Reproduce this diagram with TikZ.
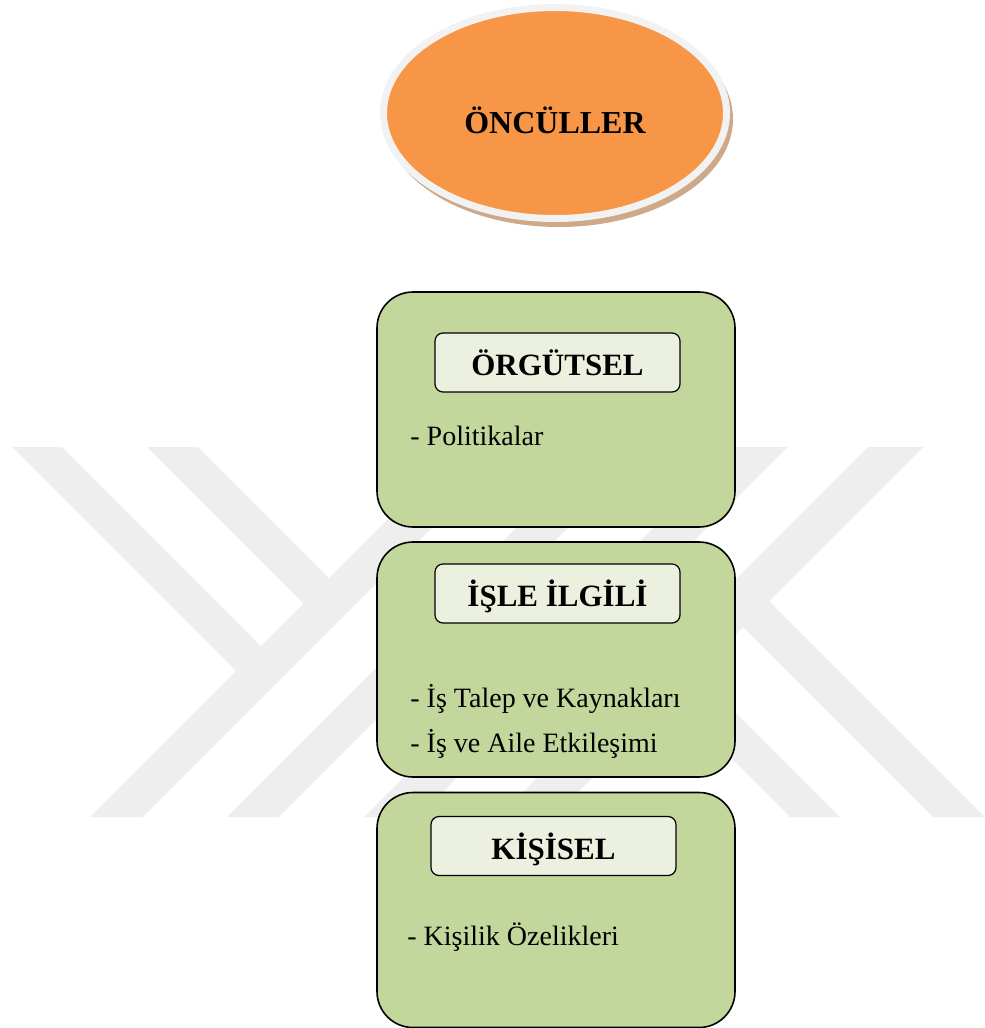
\documentclass[tikz,border=0pt]{standalone}
\usepackage{fontspec}
\setmainfont{Liberation Serif}
\usetikzlibrary{shapes.geometric}

\definecolor{oncorange}{HTML}{F79646}
\definecolor{boxgreen}{HTML}{C3D69B}
\definecolor{titlefill}{HTML}{EBF1DE}
\definecolor{rimgray}{HTML}{F2F2F2}
\definecolor{shadowbrown}{HTML}{CDA989}
\definecolor{wmgray}{HTML}{EEEEEE}

\begin{document}
\begin{tikzpicture}[x=0.5pt, y=-0.5pt,
        box/.style={rectangle, draw, line width=0.8pt, rounded corners=18pt, fill=boxgreen, minimum width=179pt, minimum height=117.5pt, inner sep=0pt},
        title/.style={rectangle, draw, line width=0.6pt, rounded corners=4pt, fill=titlefill, minimum width=122.5pt, minimum height=29.5pt, inner sep=0pt, text height=13.5pt, text depth=0.5pt, font=\fontsize{15.5}{18}\selectfont\bfseries},
        item/.style={anchor=base west, inner sep=0pt, font=\fontsize{14}{17}\selectfont}]
        \useasboundingbox (0,0) rectangle (985,1028);

        % watermark
        \fill[wmgray] (12,447) -- (62,447) -- (261,646) -- (236,671) -- cycle;
        \fill[wmgray] (147,447) -- (198,447) -- (329,578) -- (303.5,603.5) -- cycle;
        \fill[wmgray] (90,817) -- (143,817) -- (513,447) -- (460,447) -- cycle;
        \fill[wmgray] (227,817) -- (279,817) -- (649,447) -- (597,447) -- cycle;
        \fill[wmgray] (364,817) -- (418,817) -- (788,447) -- (734,447) -- cycle;
        \fill[wmgray] (868,447) -- (923,447) -- (553,817) -- (498,817) -- cycle;
        \fill[wmgray] (933,817) -- (985,817) -- (769,601) -- (743,627) -- cycle;
        \fill[wmgray] (790,817) -- (840,817) -- (696.5,673.5) -- (671.5,698.5) -- cycle;

        % Oncul
        \fill[shadowbrown] (559,119) ellipse [x radius=174, y radius=108];
        \node[ellipse, fill=oncorange, draw=rimgray, line width=3.5pt, minimum width=171.5pt, minimum height=105.5pt, inner sep=0pt, text height=20pt, text depth=0pt, font=\fontsize{16}{19}\selectfont\bfseries] (oncul) at (555,113) {ÖNCÜLLER};

        % Orgutsel
        \node[box] (orgutsel) at (556,409.5) {};
        \node[title] (orgutselT) at (557.5,362.5) {ÖRGÜTSEL};
        \node[item] (politika) at (410,445) {- Politikalar};

        % Isle ilgili
        \node[box] (isle) at (556,659.5) {};
        \node[title] (isleT) at (557.5,593.5) {İŞLE İLGİLİ};
        \node[item] (talep) at (410,707) {- İş Talep ve Kaynakları};
        \node[item] (aile) at (410,752) {- İş ve Aile Etkileşimi};

        % Kisisel
        \node[box] (kisisel) at (556,910) {};
        \node[title] (kisiselT) at (553.5,846) {KİŞİSEL};
        \node[item] (kisilik) at (407,945) {- Kişilik Özelikleri};
\end{tikzpicture}
\end{document}
